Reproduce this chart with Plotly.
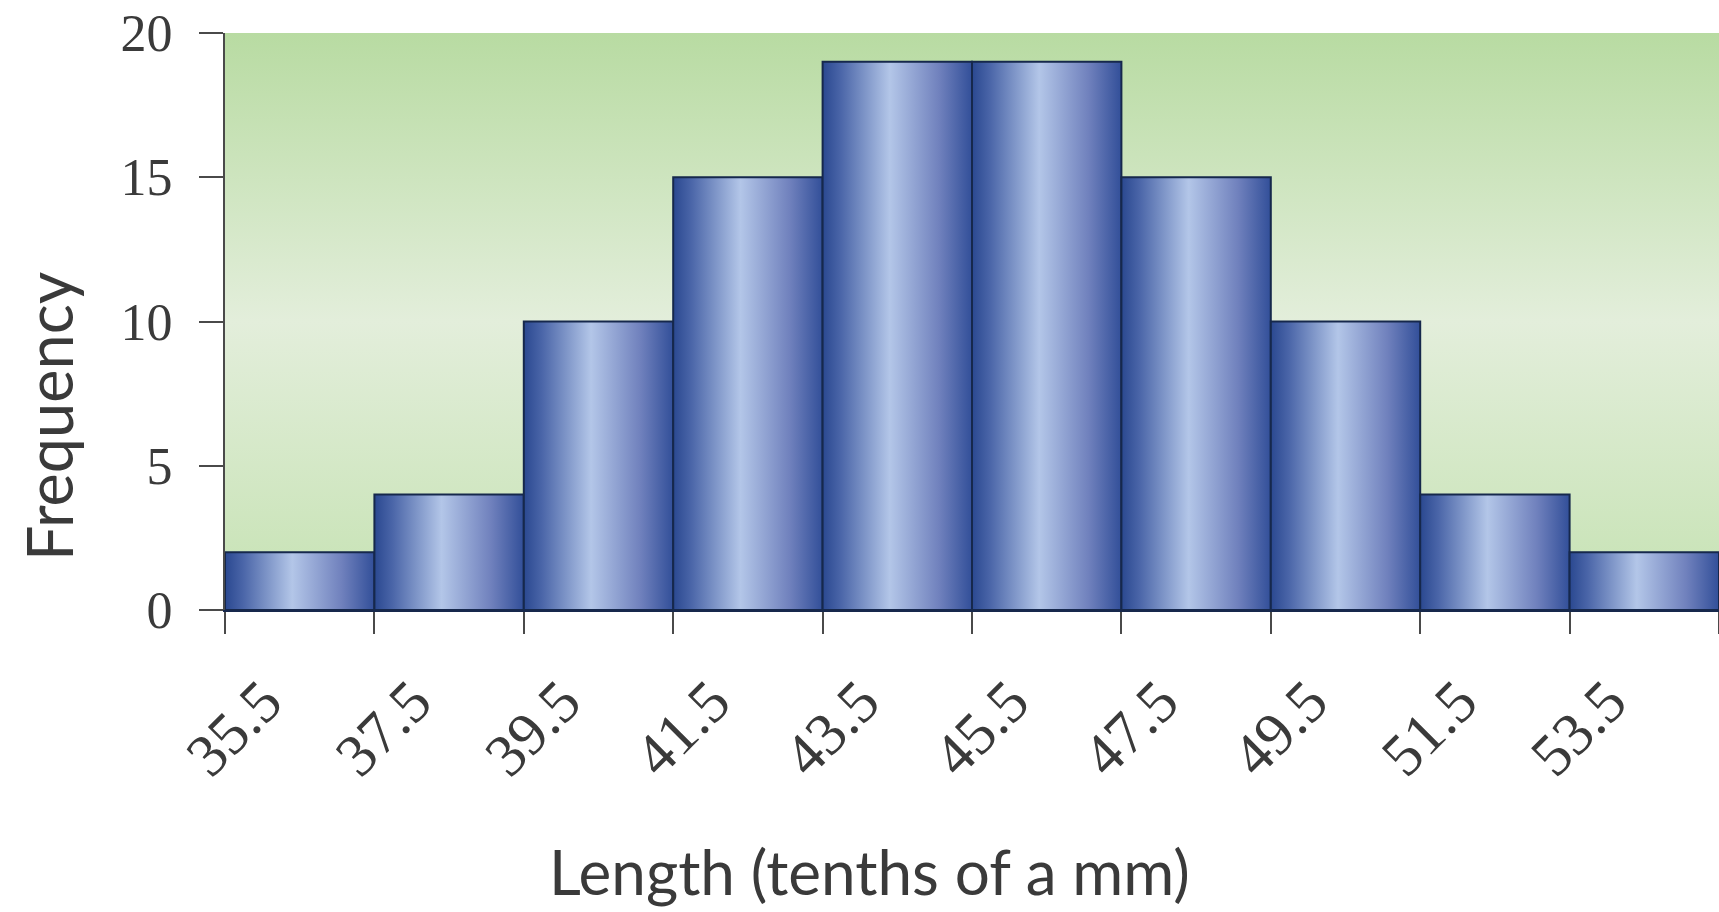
import plotly.graph_objects as go

# Histogram of lengths: bin edges (tick labels) and frequencies per bin
edge_labels = ["35.5", "37.5", "39.5", "41.5", "43.5", "45.5", "47.5", "49.5", "51.5", "53.5", "55.5"]
frequencies = [2, 4, 10, 15, 19, 19, 15, 10, 4, 2]
y_ticks = [0, 5, 10, 15, 20]

x_title = "Length (tenths of a mm)"
y_title = "Frequency"

edges = [float(s) for s in edge_labels]

# Styling
bar_gradient = [
    [0.0, "#2a4890"],
    [0.12, "#4a65a8"],
    [0.45, "#b3c6e8"],
    [0.78, "#7081bd"],
    [1.0, "#324f99"],
]
bar_outline = "#16284c"
bg_gradient = [
    [0.0, "#c5e2b2"],
    [0.5, "#e3eedb"],
    [1.0, "#b8dba2"],
]
text_color = "#3a3a3a"
axis_color = "#4a4a4a"

fig = go.Figure()

# Plot-area background with a vertical green gradient
fig.add_trace(go.Scatter(
    x=[edges[0], edges[0], edges[-1], edges[-1], edges[0]],
    y=[y_ticks[0], y_ticks[-1], y_ticks[-1], y_ticks[0], y_ticks[0]],
    mode="lines",
    line=dict(width=0),
    fill="toself",
    fillgradient=dict(type="vertical", colorscale=bg_gradient,
                      start=y_ticks[0], stop=y_ticks[-1]),
    hoverinfo="skip",
    showlegend=False,
))

# Bars drawn as filled outlines, each with a horizontal "cylinder" gradient
for i, count in enumerate(frequencies):
    x0, x1 = edges[i], edges[i + 1]
    fig.add_trace(go.Scatter(
        x=[x0, x0, x1, x1, x0],
        y=[0, count, count, 0, 0],
        mode="lines",
        line=dict(color=bar_outline, width=2),
        fill="toself",
        fillgradient=dict(type="horizontal", colorscale=bar_gradient,
                          start=x0, stop=x1),
        hovertemplate=f"{x0}–{x1}: {count}<extra></extra>",
        showlegend=False,
    ))

fig.update_layout(
    width=1719,
    height=912,
    margin=dict(l=225, r=0, t=33, b=302),
    paper_bgcolor="white",
    plot_bgcolor="white",
    showlegend=False,
    xaxis=dict(
        range=[edges[0], edges[-1]],
        tickmode="array",
        tickvals=edges,
        ticktext=edge_labels[:-1] + [""],
        tickangle=-45,
        ticks="outside",
        ticklen=22,
        tickwidth=2,
        tickcolor=axis_color,
        showline=True,
        linecolor=bar_outline,
        linewidth=2,
        showgrid=False,
        zeroline=False,
        tickfont=dict(family="Liberation Serif", size=60, color=text_color),
        ticklabelshift=39,
        ticklabelstandoff=8,
    ),
    yaxis=dict(
        range=[y_ticks[0], y_ticks[-1]],
        tickmode="array",
        tickvals=y_ticks,
        ticks="outside",
        ticklen=24,
        tickwidth=2,
        tickcolor=axis_color,
        showline=True,
        linecolor=axis_color,
        linewidth=2,
        showgrid=False,
        zeroline=False,
        tickfont=dict(family="Liberation Serif", size=52, color=text_color),
        ticklabelstandoff=16,
    ),
    annotations=[
        dict(text=x_title, xref="paper", yref="paper", x=0.4317, y=-0.452,
             xanchor="center", yanchor="middle", showarrow=False,
             font=dict(family="Lato", size=62, color=text_color)),
        dict(text=y_title, xref="paper", yref="paper", x=-0.1178, y=0.3345,
             xanchor="center", yanchor="middle", textangle=-90, showarrow=False,
             font=dict(family="Lato", size=63, color=text_color)),
    ],
)

fig.write_html("out.html")
